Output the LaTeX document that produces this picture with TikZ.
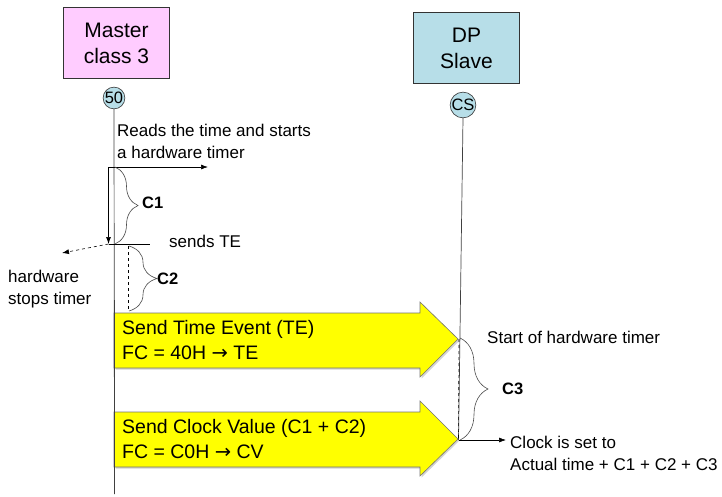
\documentclass[tikz,border=0pt]{standalone}
\usepackage{fontspec}
\setmainfont{Liberation Sans}
\newfontfamily\arrowfont{DejaVu Sans}
\usetikzlibrary{arrows.meta,decorations.pathreplacing,shadows}
\definecolor{masterpink}{HTML}{FFCCFF}
\definecolor{slaveblue}{HTML}{B7DEE8}
\definecolor{msgyellow}{HTML}{FFFF00}
\newcommand{\goesto}{{\arrowfont →}}
\tikzset{
  partybox/.style={draw=black!80, line width=0.8pt, minimum width=106pt, minimum height=71pt, align=center, font=\fontsize{21}{26}\selectfont},
  station/.style={circle, draw=black!80, fill=slaveblue, line width=0.6pt, inner sep=0pt, minimum size=20pt, font=\fontsize{16.5}{16.5}\selectfont},
  lifeline/.style={draw=black!75, line width=0.7pt},
  note/.style={anchor=west, align=left, inner sep=0pt, font=\fontsize{17}{22}\selectfont},
  msgtext/.style={anchor=west, align=left, inner sep=0pt, font=\fontsize{19.5}{24}\selectfont},
  span/.style={draw=black!70, line width=0.6pt, decorate, decoration={brace, amplitude=#1}},
  spanlabel/.style={anchor=west, inner sep=0pt, font=\bfseries\fontsize{16.5}{16.5}\selectfont},
  arr/.style={-{Latex[length=7pt,width=5pt]}, line width=0.7pt},
  msgarrow/.style={fill=msgyellow, draw=black!55, line width=0.6pt, drop shadow={shadow xshift=1.5pt, shadow yshift=-1.5pt, opacity=0.35}},
}
\begin{document}
\begin{tikzpicture}[x=1pt,y=-1pt]
\useasboundingbox (0,0) rectangle (722,496);

% parties and their stations
\node[partybox, fill=masterpink] (master) at (116.5,43) {Master\\class 3};
\node[partybox, fill=slaveblue] (slave) at (466.5,48) {DP\\Slave};
\node[station] (m50) at (114,98) {50};
\node[station] (cs) at (463,105) {CS};

% life lines
\coordinate (mend) at (114.5,494);
\coordinate (sarr) at (458.5,440);
\draw[lifeline] (m50.south) -- (mend);
\draw[lifeline] (cs.south) -- (sarr);

% yellow message arrows
\draw[msgarrow] (114,313) -- (420,313) -- (420,302) -- (458,339) -- (420,377) -- (420,368) -- (114,368) -- cycle;
\draw[msgarrow] (114,412) -- (420,412) -- (420,401) -- (458,439) -- (420,476) -- (420,467) -- (114,467) -- cycle;
\draw[lifeline] (114.5,300) -- (mend);

\node[msgtext] (te1) at (122,329) {Send Time Event (TE)};
\node[msgtext] (te2) at (122,353) {FC = 40H \goesto{} TE};
\node[msgtext] (cv1) at (122,428) {Send Clock Value (C1 + C2)};
\node[msgtext] (cv2) at (122,452) {FC = C0H \goesto{} CV};

% master side: timer start
\node[note] (reads) at (117,141) {Reads the time and starts\\a hardware timer};
\coordinate (t0) at (108.5,167);
\coordinate (t0r) at (208,167);
\coordinate (t1) at (108.5,244);
\coordinate (t1r) at (150,244);
\draw[arr] (t0) -- (t0r);
\draw[arr] (t0) -- (t1);
\draw[line width=0.7pt] (t1) -- (t1r);
\node[note] (sendste) at (169,241) {sends TE};

\draw[span=23pt] (115,167) -- (115,244);
\node[spanlabel] (c1) at (142,203) {C1};

\coordinate (stopend) at (62,253);
\draw[arr, dashed, line width=0.6pt] (t1) -- (stopend);
\node[note] (stops) at (8,289) {hardware\\stops timer};

\draw[dashed, line width=0.6pt] (128,246) -- (128,310);
\draw[span=28pt] (129,246) -- (129,311);
\node[spanlabel] (c2) at (157,279) {C2};

% slave side: timer and clock setting
\draw[dashed, line width=0.6pt] (459,339) -- (sarr);
\node[note] (start) at (487,337) {Start of hardware timer};
\draw[span=28pt] (460,338) -- (460,440);
\node[spanlabel] (c3) at (502,389) {C3};
\coordinate (clockend) at (506,440);
\draw[arr, line width=0.6pt] (sarr) -- (clockend);
\node[note] (clock) at (510,453) {Clock is set to\\Actual time + C1 + C2 + C3};
\end{tikzpicture}
\end{document}
